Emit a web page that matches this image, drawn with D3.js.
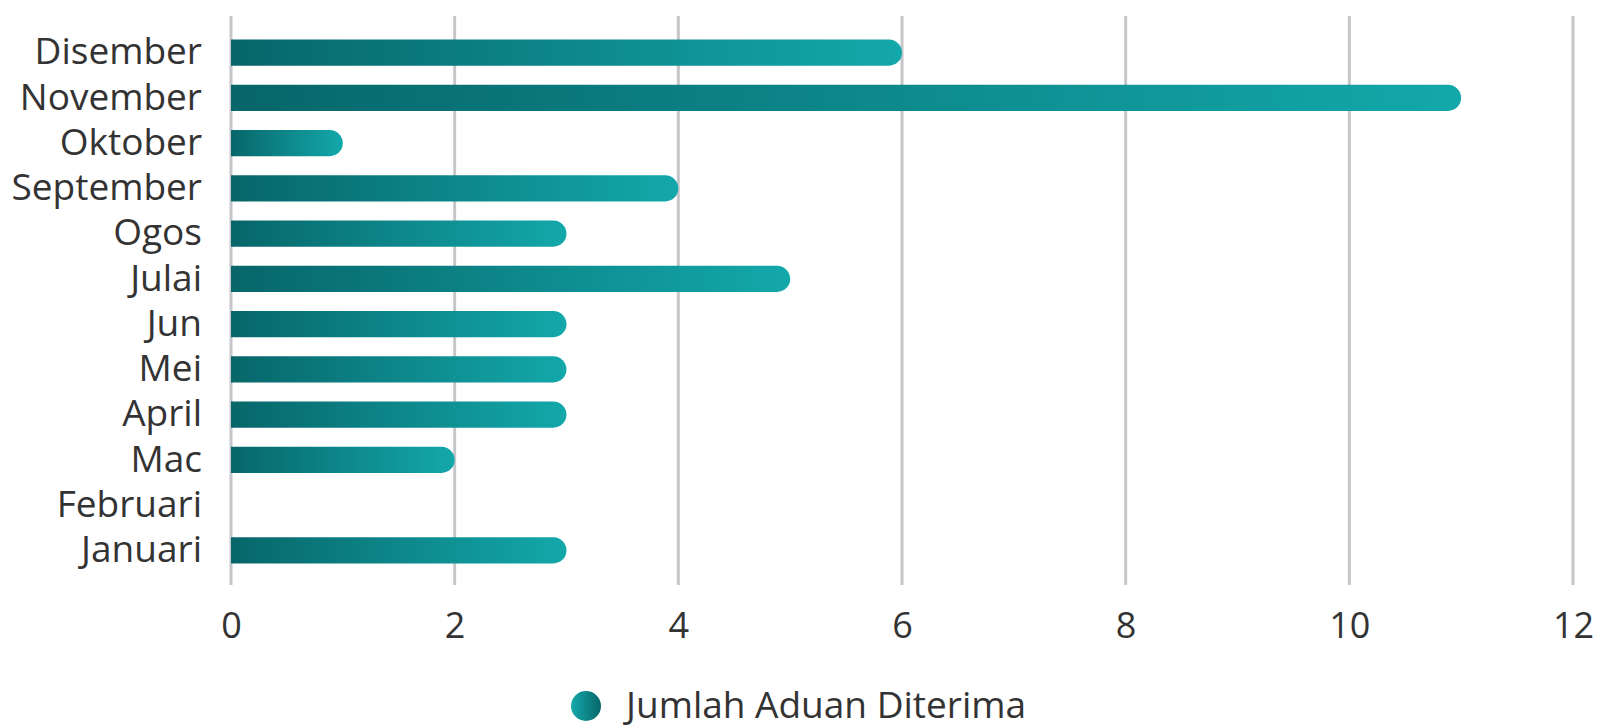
<!DOCTYPE html>
<html>
<head>
<meta charset="utf-8">
<script src="https://cdn.jsdelivr.net/npm/d3@7"></script>
<style>
  html, body { margin: 0; padding: 0; background: #ffffff; }
  svg { display: block; }
  text { font-family: "Open Sans", "Noto Sans", sans-serif; fill: #333333; }
</style>
</head>
<body>
<svg id="chart" width="1598" height="725"></svg>
<script>
const categories = ["Disember", "November", "Oktober", "September", "Ogos", "Julai", "Jun", "Mei", "April", "Mac", "Februari", "Januari"];
const values = [6, 11, 1, 4, 3, 5, 3, 3, 3, 2, 0, 3];
const xTicks = [0, 2, 4, 6, 8, 10, 12];
const seriesName = "Jumlah Aduan Diterima";

const svg = d3.select("#chart");

const x = d3.scaleLinear().domain([0, 12]).range([231, 1573]);
const y = d3.scaleBand().domain(categories).range([30, 573]).paddingInner(0.425).paddingOuter(0.2125);

const defs = svg.append("defs");
const grad = defs.append("linearGradient").attr("id", "barGrad")
  .attr("x1", "0").attr("y1", "0").attr("x2", "1").attr("y2", "0");
grad.append("stop").attr("offset", "0%").attr("stop-color", "#07666a");
grad.append("stop").attr("offset", "100%").attr("stop-color", "#13a8aa");

const grad2 = defs.append("linearGradient").attr("id", "legGrad")
  .attr("x1", "0").attr("y1", "0").attr("x2", "1").attr("y2", "0");
grad2.append("stop").attr("offset", "0%").attr("stop-color", "#14a9ab");
grad2.append("stop").attr("offset", "100%").attr("stop-color", "#07666a");

// grid lines
svg.append("g").selectAll("line").data(xTicks).join("line")
  .attr("x1", d => x(d)).attr("x2", d => x(d))
  .attr("y1", 16).attr("y2", 585)
  .attr("stroke", "#c6c6ca").attr("stroke-width", 3);

// x tick labels via axis
const xAxis = d3.axisBottom(x).tickValues(xTicks).tickSize(0).tickPadding(0).tickFormat(d3.format("d"));
const gx = svg.append("g").attr("transform", "translate(0,612)").call(xAxis);
gx.select(".domain").remove();
gx.selectAll("text").attr("dy", "0.71em").style("font-size", "36px").style("font-family", "'Open Sans', sans-serif").attr("fill", "#333333");

// y labels via axis
const yAxis = d3.axisLeft(y).tickSize(0).tickPadding(0);
const gy = svg.append("g").attr("transform", "translate(202,0)").call(yAxis);
gy.select(".domain").remove();
gy.selectAll("text").style("font-size", "37px").style("font-family", "'Open Sans', sans-serif").attr("fill", "#333333");

// bars
const bh = y.bandwidth();
function barPath(v, cat) {
  const x0 = x(0), x1 = x(v), y0 = y(cat);
  const r = Math.min(bh / 2, x1 - x0);
  if (x1 - x0 <= 0) return "";
  return `M${x0},${y0} H${x1 - r} A${r},${bh / 2} 0 0 1 ${x1 - r},${y0 + bh} H${x0} Z`;
}
svg.append("g").selectAll("path").data(categories.map((c, i) => ({ c, v: values[i] })))
  .join("path")
  .attr("d", d => barPath(d.v, d.c))
  .attr("fill", "url(#barGrad)");

// legend
const leg = svg.append("g");
leg.append("circle").attr("cx", 586).attr("cy", 706).attr("r", 15).attr("fill", "url(#legGrad)");
leg.append("text").attr("x", 626).attr("y", 718).style("font-size", "37px").text(seriesName);
</script>
</body>
</html>
